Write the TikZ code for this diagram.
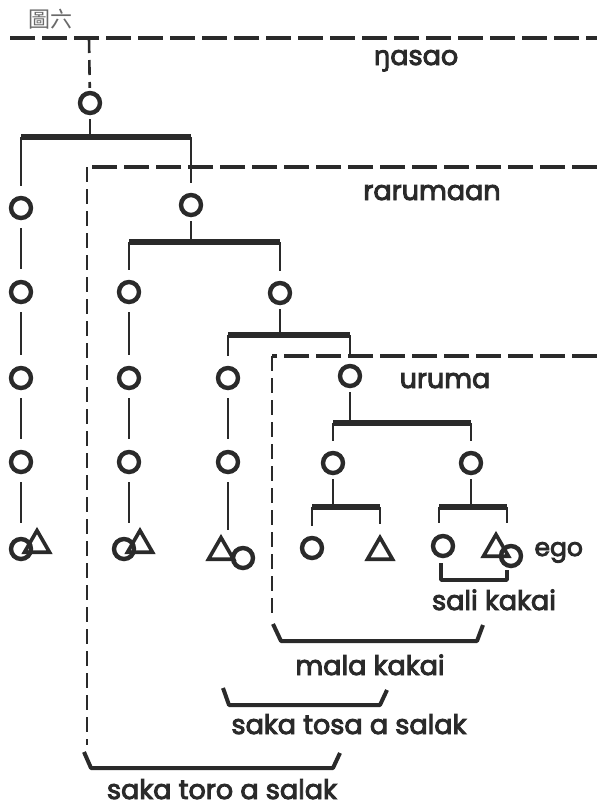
\documentclass[tikz,border=0pt]{standalone}
\usepackage{fontspec}
\setmainfont{Poppins}
\newfontfamily\lblfont{Poppins}[FakeBold=3.5]
\newfontfamily\engfont{Open Sans}[FakeBold=3.5]
\newfontfamily\cjk{Noto Sans CJK TC}
\usetikzlibrary{shapes.geometric}
\definecolor{ink}{HTML}{2A2A2A}
\begin{document}
\begin{tikzpicture}[x=1pt,y=-1pt,
  fem/.style={circle,draw=ink,line width=4.4pt,minimum size=20pt,inner sep=0pt},
  mal/.style={regular polygon,regular polygon sides=3,draw=ink,line width=3.6pt,minimum size=29pt,inner sep=0pt},
  kin/.style={draw=ink,line width=2.6pt},
  sib/.style={draw=ink,line width=5.5pt},
  lvl/.style={draw=ink,line width=3.6pt,dash pattern=on 25pt off 7pt},
  vdash/.style={draw=ink,line width=2.6pt,dash pattern=on 15pt off 7pt},
  brk/.style={draw=ink,line width=4pt,line join=round},
  lbl/.style={text=ink,anchor=base,font=\lblfont\fontsize{27}{30}\selectfont}]
\useasboundingbox (0,0) rectangle (597,807);
\fill[white] (0,0) rectangle (597,807);
% title
\node[text=ink!70,font=\cjk\fontsize{22}{23}\selectfont] (title) at (50,19) {圖六};
% level coordinates
\coordinate (t1l) at (10,38);   \coordinate (t1r) at (597,38);
\coordinate (t2c) at (87,167);  \coordinate (t2r) at (597,167); \coordinate (t2b) at (87,745);
\coordinate (t3c) at (272,356); \coordinate (t3r) at (597,356); \coordinate (t3b) at (272,617);
\coordinate (v1) at (89,38);
% people
\node[fem] (A) at (90,103) {};
\node[fem] (L1) at (21,208) {};
\node[fem] (L2) at (21,292) {};
\node[fem] (L3) at (21,378) {};
\node[fem] (L4) at (21,462) {};
\node[fem] (L5) at (21,549) {};
\node[mal] (L5t) at (37,545) {};
\node[fem] (B) at (191,205) {};
\node[fem] (C) at (129,292) {};
\node[fem] (C2) at (129,378) {};
\node[fem] (C3) at (129,462) {};
\node[fem] (C4) at (124,549) {};
\node[mal] (C4t) at (140,545) {};
\node[fem] (D) at (280,293) {};
\node[fem] (E) at (228,378) {};
\node[fem] (E2) at (228,462) {};
\node[mal] (E3t) at (221,552) {};
\node[fem] (E3) at (243,558) {};
\node[fem] (F) at (350,376) {};
\node[fem] (G) at (333,463) {};
\node[fem] (H) at (471,463) {};
\node[fem] (G1) at (312,548) {};
\node[mal] (G2) at (380,552) {};
\node[fem] (H1) at (443,546) {};
\node[mal] (H2) at (496,549) {};
\node[fem] (ego) at (511,556) {};
% bar levels
\coordinate (bA) at (0,137);
\coordinate (bB) at (0,242);
\coordinate (bD) at (0,335);
\coordinate (bF) at (0,423);
\coordinate (bG) at (0,507);
\coordinate (sk) at (0,580);
% dashed level lines
\draw[lvl] (t1l) -- (t1r);
\draw[vdash,shorten >=3pt] (v1) -- (A);
\draw[lvl] (t2r) -- (t2c);
\draw[vdash] (t2c) -- (t2b);
\draw[lvl] (t3r) -- (t3c);
\draw[vdash] (t3c) -- (t3b);
% lines of descent
\foreach \a/\b in {L1/L2,L2/L3,L3/L4,C/C2,C2/C3,E/E2}
  \draw[kin,shorten <=8pt,shorten >=11pt] (\a) -- (\b);
\foreach \a/\b in {L4/L5t,C3/C4t,E2/E3t}
  \draw[kin,shorten <=8pt,shorten >=4pt] (\a) -- (\a |- \b.north);
% sibling sets
\foreach \p/\bar/\l/\r in {A/bA/L1/B, B/bB/C/D, D/bD/E/F, F/bF/G/H, G/bG/G1/G2}{
  \draw[kin,shorten <=4pt] (\p) -- (\p |- \bar);
  \draw[sib] (\l |- \bar) -- (\r |- \bar);
  \draw[kin,shorten >=10pt] (\l |- \bar) -- (\l);
  \draw[kin,shorten >=10pt] (\r |- \bar) -- (\r |- \r.north);
}
\coordinate (hl) at (439,507); \coordinate (hr) at (507,507);
\draw[kin,shorten <=4pt] (H) -- (H |- hl);
\draw[sib] (hl) -- (hr);
\draw[kin] (hl) -- ++(0,16);
\draw[kin] (hr) -- ++(0,16);
% sali kakai
\coordinate (sk1) at (441,563); \coordinate (sk4) at (507,570);
\draw[brk,line width=3.6pt] (sk1) -- (sk1 |- sk) -- (sk4 |- sk) -- (sk4);
% brackets
\coordinate (m1) at (273,624); \coordinate (m2) at (281,641); \coordinate (m3) at (477,641); \coordinate (m4) at (483,625);
\draw[brk] (m1) -- (m2) -- (m3) -- (m4);
\coordinate (s1) at (223,688); \coordinate (s2) at (229,705); \coordinate (s3) at (380,705); \coordinate (s4) at (387,690);
\draw[brk] (s1) -- (s2) -- (s3) -- (s4);
\coordinate (r1) at (84,752); \coordinate (r2) at (91,768); \coordinate (r3) at (333,768); \coordinate (r4) at (340,753);
\draw[brk] (r1) -- (r2) -- (r3) -- (r4);
% labels
\node[lbl] (nasao) at (416,65) {{\engfont ŋ}asao};
\node[lbl] (rarumaan) at (432,200) {rarumaan};
\node[lbl] (uruma) at (445,388) {uruma};
\node[lbl,anchor=base west] (egol) at (531,556) {\fontsize{25}{28}\selectfont ego};
\node[lbl] (sali) at (494,610) {sali kakai};
\node[lbl] (mala) at (370,675) {mala kakai};
\node[lbl] (tosa) at (349,734) {saka tosa a salak};
\node[lbl] (toro) at (222,799) {saka toro a salak};
\end{tikzpicture}
\end{document}
